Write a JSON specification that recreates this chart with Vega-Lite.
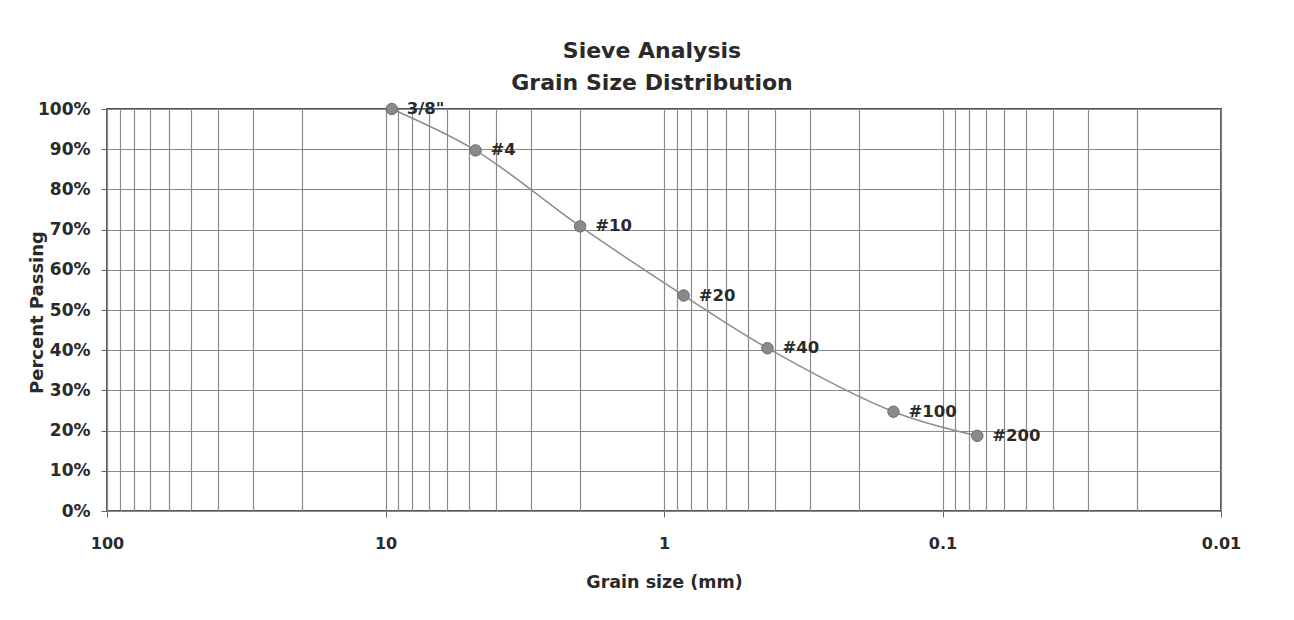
{
  "$schema": "https://vega.github.io/schema/vega-lite/v6.json",
  "width": 1114,
  "height": 402,
  "autosize": "none",
  "padding": {"left": 107, "top": 109, "right": 73, "bottom": 109},
  "background": "white",
  "title": {
    "text": ["Sieve Analysis", "Grain Size Distribution"],
    "font": "DejaVu Sans",
    "fontSize": 22,
    "fontWeight": "bold",
    "color": "#2a2a2a",
    "anchor": "middle",
    "dx": -12,
    "offset": 5,
    "lineHeight": 32
  },
  "config": {
    "view": {"stroke": "#555555", "strokeWidth": 2},
    "font": "DejaVu Sans"
  },
  "data": {
    "values": [
      {"sieve": "3/8\"", "size": 9.5, "pass": 1.0},
      {"sieve": "#4", "size": 4.75, "pass": 0.897},
      {"sieve": "#10", "size": 2.0, "pass": 0.708},
      {"sieve": "#20", "size": 0.85, "pass": 0.536},
      {"sieve": "#40", "size": 0.425, "pass": 0.405},
      {"sieve": "#100", "size": 0.15, "pass": 0.247},
      {"sieve": "#200", "size": 0.075, "pass": 0.187}
    ]
  },
  "encoding": {
    "x": {
      "field": "size",
      "type": "quantitative",
      "scale": {"type": "log", "domain": [0.01, 100], "reverse": true, "nice": false},
      "axis": {
        "title": "Grain size (mm)",
        "titleFont": "DejaVu Sans",
        "titleFontSize": 17.5,
        "titleFontWeight": "bold",
        "titleColor": "#2a2a2a",
        "titleY": 71,
        "titleBaseline": "middle",
        "values": [100, 90, 80, 70, 60, 50, 40, 30, 20, 10, 9, 8, 7, 6, 5, 4, 3, 2, 1, 0.9, 0.8, 0.7, 0.6, 0.5, 0.4, 0.3, 0.2, 0.1, 0.09, 0.08, 0.07, 0.06, 0.05, 0.04, 0.03, 0.02, 0.01],
        "labelExpr": "datum.value == 100 ? '100' : datum.value == 10 ? '10' : datum.value == 1 ? '1' : datum.value == 0.1 ? '0.1' : datum.value == 0.01 ? '0.01' : ''",
        "labelFontSize": 16,
        "labelFontWeight": "bold",
        "labelColor": "#2a2a2a",
        "labelPadding": 18,
        "labelOverlap": false,
        "labelFlush": false,
        "tickSize": 6,
        "tickColor": {"condition": {"test": "indexof([100,10,1,0.1,0.01], datum.value) >= 0", "value": "#666666"}, "value": "transparent"},
        "domain": false,
        "grid": true,
        "gridColor": "#8a8a8a",
        "gridWidth": 1.2,
        "gridOpacity": 1
      }
    },
    "y": {
      "field": "pass",
      "type": "quantitative",
      "scale": {"domain": [0, 1], "nice": false},
      "axis": {
        "title": "Percent Passing",
        "titleFont": "DejaVu Sans",
        "titleFontSize": 18,
        "titleFontWeight": "bold",
        "titleColor": "#2a2a2a",
        "titleX": -70,
        "titleY": 203,
        "titleAngle": -90,
        "titleAlign": "center",
        "titleBaseline": "middle",
        "values": [0, 0.1, 0.2, 0.3, 0.4, 0.5, 0.6, 0.7, 0.8, 0.9, 1],
        "format": ".0%",
        "labelFontSize": 17,
        "labelFontWeight": "bold",
        "labelColor": "#2a2a2a",
        "labelPadding": 11,
        "tickSize": 6,
        "tickColor": "#666666",
        "domain": false,
        "grid": true,
        "gridColor": "#8a8a8a",
        "gridWidth": 1.2,
        "gridOpacity": 1
      }
    }
  },
  "layer": [
    {
      "mark": {"type": "line", "interpolate": "catmull-rom", "color": "#8c8c8c", "strokeWidth": 1.5}
    },
    {
      "mark": {"type": "point", "filled": true, "size": 130, "color": "#8a8a8a", "stroke": "#6a6a6a", "strokeWidth": 1, "opacity": 1}
    },
    {
      "mark": {"type": "text", "align": "left", "baseline": "middle", "dx": 15, "fontSize": 16.5, "fontWeight": "bold", "color": "#2a2a2a", "font": "DejaVu Sans"},
      "encoding": {"text": {"field": "sieve"}}
    }
  ]
}
